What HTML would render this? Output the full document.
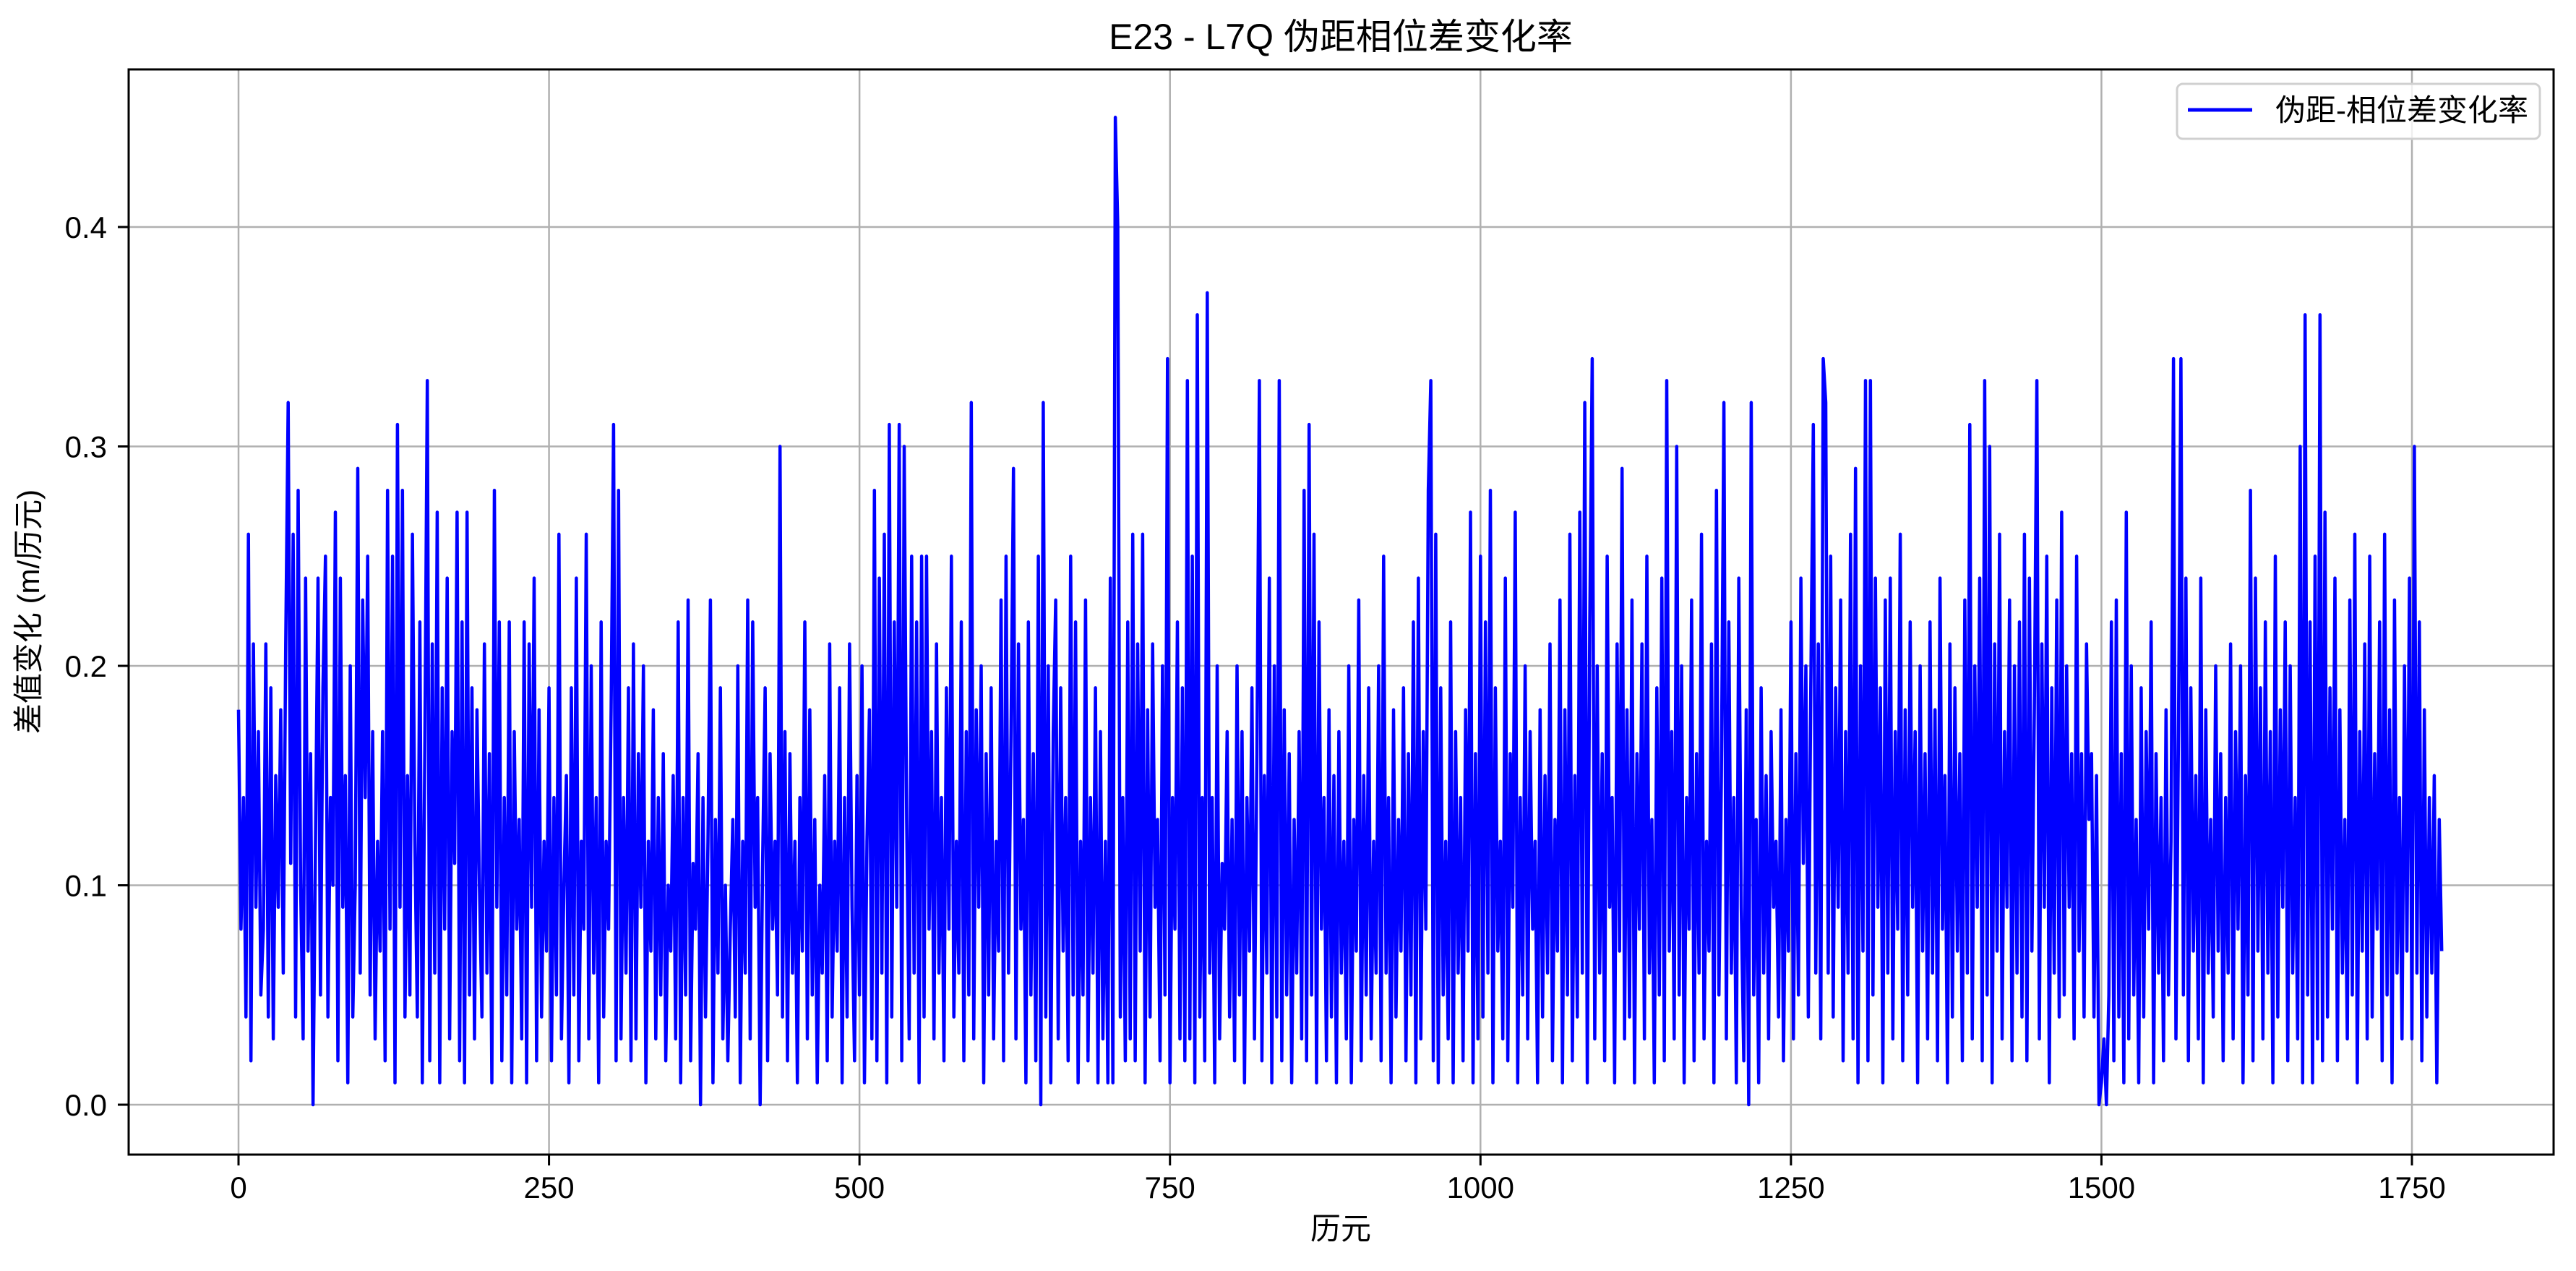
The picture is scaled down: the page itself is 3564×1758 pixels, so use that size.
<!DOCTYPE html>
<html><head><meta charset="utf-8">
<style>
html,body{margin:0;padding:0;background:#fff;}
svg{display:block;font-family:"Liberation Sans","Noto Sans CJK SC",sans-serif;}
</style></head>
<body>
<svg id="chart" width="3564" height="1758" viewBox="0 0 3564 1758" xmlns="http://www.w3.org/2000/svg">
  <rect x="0" y="0" width="3564" height="1758" fill="#fff"/>
  <g id="grid"></g>
  <g id="plot"></g>
  <rect x="178" y="96" width="3355" height="1501" fill="none" stroke="#000" stroke-width="3"/>
  <g id="ticks"></g>
  <text x="1855" y="68" font-size="50" text-anchor="middle">E23 - L7Q 伪距相位差变化率</text>
  <text x="1855" y="1714" font-size="42" text-anchor="middle">历元</text>
  <text transform="translate(54,846) rotate(-90)" font-size="42" text-anchor="middle">差值变化 (m/历元)</text>
  <g>
    <rect x="3012" y="116" width="502" height="76" rx="8" fill="#fff" fill-opacity="0.8" stroke="#d0d0d0" stroke-width="3"/>
    <line x1="3027" y1="152" x2="3116" y2="152" stroke="#0000ff" stroke-width="5"/>
    <text x="3148" y="167" font-size="42">伪距-相位差变化率</text>
  </g>
</svg>
<script>
const epochStep = 2;
const valuesCm = [
18,8,14,4,26,2,21,9,17,5,8,21,4,19,3,15,9,18,6,21,
32,11,26,4,28,10,3,24,7,16,0,12,24,5,19,25,4,14,10,27,
2,24,9,15,1,20,4,10,29,6,23,14,25,5,17,3,12,7,17,2,
28,8,25,1,31,9,28,4,15,5,26,12,4,22,1,16,33,2,21,6,
27,1,19,8,24,3,17,11,27,2,22,1,27,5,19,3,18,10,4,21,
6,16,1,28,9,22,2,14,5,22,1,17,8,13,3,22,1,21,9,24,
2,18,4,12,7,19,2,14,5,26,3,10,15,1,19,5,24,2,12,8,
26,3,20,6,14,1,22,4,12,8,18,31,2,28,3,14,6,19,2,21,
3,16,9,20,1,12,7,18,3,14,5,16,2,10,7,15,3,22,1,14,
5,23,2,11,8,16,0,14,4,12,23,1,13,6,19,3,10,2,8,13,
4,20,1,12,6,23,3,22,9,14,0,11,19,2,16,8,12,5,30,4,
17,2,16,6,12,1,14,7,22,3,18,5,13,1,10,6,15,2,21,4,
12,7,19,1,14,4,21,9,2,15,5,20,1,12,18,3,28,2,24,6,
26,1,31,4,22,9,31,2,30,13,3,25,6,22,1,25,4,25,8,17,
3,21,6,14,2,19,8,25,4,12,6,22,2,17,5,32,3,18,9,20,
1,16,5,19,3,12,7,23,2,25,6,17,29,3,21,8,13,1,22,5,
16,2,25,0,32,4,20,1,17,23,3,19,7,14,2,25,5,22,1,12,
5,23,2,14,6,19,1,17,3,12,1,24,1,45,40,4,14,2,22,3,
26,2,21,7,26,1,18,4,21,9,13,2,20,5,34,1,14,8,22,3,
19,2,33,3,25,1,36,4,14,2,37,6,14,1,20,3,11,8,17,4,
13,2,20,5,17,1,14,7,19,3,16,33,2,15,6,24,1,20,4,33,
2,18,5,16,1,13,6,17,3,28,2,31,5,26,1,22,8,14,2,18,
4,15,1,17,6,12,3,20,1,13,7,23,2,15,5,19,3,12,6,20,
2,25,6,14,1,18,4,13,7,19,2,16,5,22,1,24,3,17,8,28,
33,2,26,1,19,5,12,3,22,1,17,6,14,2,18,7,27,1,16,3,
25,4,22,6,28,1,19,7,12,3,24,2,16,9,27,1,14,5,20,3,
17,8,12,1,18,4,15,6,21,2,13,7,23,1,18,5,26,2,15,4,
27,6,32,1,22,34,3,20,6,16,2,25,9,14,1,21,7,29,3,18,
4,23,1,16,8,21,3,25,6,13,1,19,5,24,2,33,7,17,3,30,
5,20,1,14,8,23,2,16,6,26,3,12,7,21,1,28,5,15,32,3,
22,6,14,1,24,9,2,18,0,32,5,13,1,19,6,15,3,17,9,12,
4,18,2,13,7,22,3,16,5,24,11,20,4,19,31,6,21,3,34,32,
6,25,4,19,9,23,2,17,6,26,3,29,1,20,7,33,2,33,5,24,
9,19,1,23,6,24,3,17,8,26,2,18,5,22,9,17,1,20,7,16,
3,22,6,18,2,24,8,15,1,21,4,19,7,16,2,23,6,31,3,20,
9,24,2,33,5,30,1,21,7,26,3,17,9,23,2,20,6,22,4,26,
2,24,7,18,33,3,21,9,25,1,19,6,23,4,27,5,20,9,16,3,
25,7,16,4,21,13,16,4,15,0,1,3,0,5,22,2,23,4,16,1,
27,3,20,5,13,1,19,4,17,8,22,1,16,6,14,2,18,5,12,34,
3,17,34,5,24,2,19,7,15,3,24,1,18,6,13,4,20,7,16,2,
14,6,21,3,17,8,20,1,15,5,28,2,24,7,19,3,22,6,17,1,
25,4,18,9,22,2,20,6,14,3,30,1,36,5,22,1,25,3,36,2,
27,4,19,8,24,2,18,6,13,3,23,5,26,1,17,7,21,3,25,4,
16,8,22,2,26,5,18,1,23,6,14,3,20,7,24,3,30,6,22,2,
18,4,14,6,15,1,13,7
];
const xTicks = [0,250,500,750,1000,1250,1500,1750];
const yTicks = [0.0,0.1,0.2,0.3,0.4];
const yTickLabels = ["0.0","0.1","0.2","0.3","0.4"];

const NS = "http://www.w3.org/2000/svg";
const L = 178, R = 3533, T = 96, B = 1597;
function xs(v){ return 330 + v * (3337 - 330) / 1750; }
function ys(v){ return 1528 - v * 3035; }

const grid = document.getElementById('grid');
const ticks = document.getElementById('ticks');
function mk(tag, attrs, parent){
  const e = document.createElementNS(NS, tag);
  for (const k in attrs) e.setAttribute(k, attrs[k]);
  parent.appendChild(e);
  return e;
}
xTicks.forEach(function(t){
  const x = xs(t);
  const g = mk('line', {x1:x, y1:T, x2:x, y2:B, stroke:'#b0b0b0', 'stroke-width':2.5}, grid);
  
  
  const tk = mk('line', {x1:x, y1:B, x2:x, y2:B+15, stroke:'#000', 'stroke-width':3}, ticks);
  
  
  const lb = mk('text', {x:x, y:B+60, 'font-size':42, 'text-anchor':'middle'}, ticks);
  lb.textContent = String(t);
  
  
});
yTicks.forEach(function(t, i){
  const y = ys(t);
  const g = mk('line', {x1:L, y1:y, x2:R, y2:y, stroke:'#b0b0b0', 'stroke-width':2.5}, grid);
  
  
  const tk = mk('line', {x1:L-15, y1:y, x2:L, y2:y, stroke:'#000', 'stroke-width':3}, ticks);
  
  
  const lb = mk('text', {x:L-30, y:y+15, 'font-size':42, 'text-anchor':'end'}, ticks);
  lb.textContent = yTickLabels[i];
  
  
});
let d = '';
valuesCm.forEach(function(v, i){
  const x = xs(i * epochStep), y = ys(v / 100);
  d += (i ? 'L' : 'M') + x.toFixed(1) + ' ' + y.toFixed(1);
});
const line = mk('path', {d:d, fill:'none', stroke:'#0000ff', 'stroke-width':4.5, 'stroke-linejoin':'round'}, document.getElementById('plot'));


</script>
</body></html>
